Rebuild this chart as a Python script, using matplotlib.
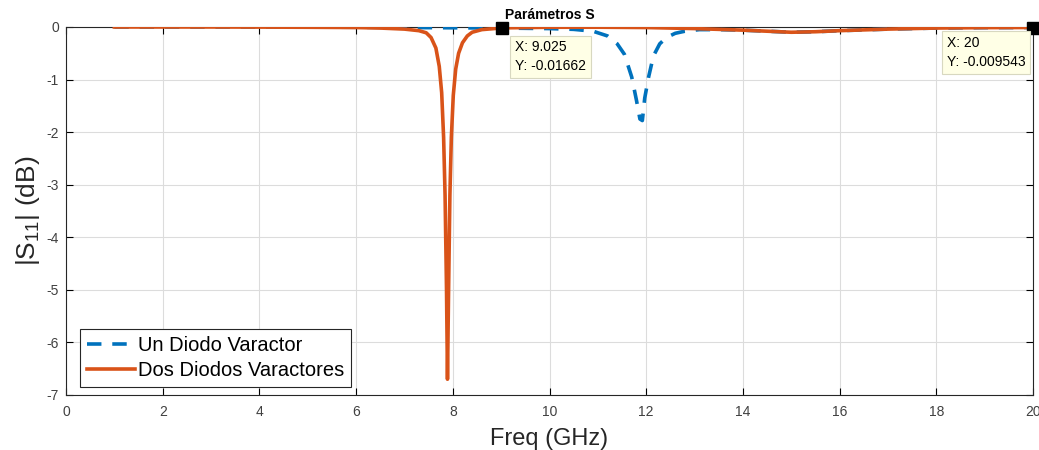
import matplotlib
matplotlib.use("Agg")
import matplotlib.pyplot as plt

plt.rcParams["font.family"] = ["Liberation Sans", "DejaVu Sans"]
plt.rcParams["axes.unicode_minus"] = False
plt.rcParams["mathtext.fontset"] = "custom"
plt.rcParams["mathtext.rm"] = "Liberation Sans"
plt.rcParams["mathtext.it"] = "Liberation Sans:italic"

# Data
freq_dos = [1.0, 2.0, 3.0, 4.0, 5.0, 6.0, 6.5, 7.0, 7.3, 7.45, 7.55, 7.65, 7.72, 7.77, 7.81,
            7.84, 7.87, 7.89, 7.91, 7.94, 7.97, 8.01, 8.06, 8.12, 8.2, 8.3, 8.4, 8.6, 9.025,
            10.0, 11.0, 12.0, 13.0, 14.0, 14.5, 15.0, 15.5, 16.0, 17.0, 18.0, 19.0, 20.0]
s11_dos = [0.0, 0.0, 0.0, -0.002, -0.005, -0.01, -0.02, -0.04, -0.07, -0.11, -0.2, -0.4, -0.75,
           -1.25, -2.1, -3.2, -5.0, -6.7, -5.2, -3.2, -2.1, -1.3, -0.8, -0.5, -0.3, -0.17, -0.1,
           -0.05, -0.01662, -0.005, -0.004, -0.01, -0.03, -0.06, -0.08, -0.1, -0.09, -0.07,
           -0.04, -0.02, -0.012, -0.009543]

freq_un = [1.0, 2.0, 4.0, 6.0, 7.0, 8.0, 9.0, 10.0, 10.5, 10.9, 11.2, 11.4, 11.55, 11.7,
           11.8, 11.87, 11.92, 11.97, 12.05, 12.15, 12.28, 12.42, 12.6, 12.8, 13.1, 13.5,
           14.0, 14.5, 15.0, 15.5, 16.0, 17.0, 18.0, 19.0, 20.0]
s11_un = [0.0, 0.0, 0.0, -0.005, -0.01, -0.015, -0.02, -0.03, -0.045, -0.08, -0.17, -0.32,
          -0.52, -0.95, -1.4, -1.75, -1.78, -1.35, -0.95, -0.55, -0.32, -0.2, -0.12, -0.08,
          -0.05, -0.05, -0.06, -0.08, -0.1, -0.09, -0.07, -0.04, -0.02, -0.012, -0.009543]

tips_x = [9.025, 20.0]
tips_y = [-0.01662, -0.009543]
tip_labels = ["X: 9.025\nY: -0.01662", "X: 20\nY: -0.009543"]

x_ticks = [0, 2, 4, 6, 8, 10, 12, 14, 16, 18, 20]
y_ticks = [0, -1, -2, -3, -4, -5, -6, -7]

blue = "#0072BD"
orange = "#D95319"

fig = plt.figure(figsize=(10.39, 4.5), dpi=100)
ax = fig.add_axes([66/1039, 1-395/450, (1033-66)/1039, (395-27)/450])

ax.plot(freq_un, s11_un, color=blue, lw=2.6, ls=(0, (4, 3)), label="Un Diodo Varactor", zorder=3)
ax.plot(freq_dos, s11_dos, color=orange, lw=2.6, label="Dos Diodos Varactores", zorder=4)

ax.set_xlim(0, 20)
ax.set_ylim(-7, 0)
ax.set_xticks(x_ticks)
ax.set_yticks(y_ticks)
ax.grid(True, color="#dcdcdc", lw=0.8)
ax.set_axisbelow(True)
ax.tick_params(direction="in", top=True, right=True, labelsize=10, labelcolor="#404040",
               length=5, width=0.8)
ax.tick_params(axis="x", pad=7)
ax.tick_params(axis="y", pad=5)
for s in ax.spines.values():
    s.set_color("#262626")
    s.set_linewidth(0.8)

ax.set_xlabel("Freq (GHz)", fontsize=17, color="#262626", labelpad=7)
ax.set_ylabel("|S$_{11}$| (dB)", fontsize=19, color="#262626", labelpad=3)
ax.set_title("Parámetros S", fontsize=10, fontweight="bold", pad=6)

# Data tips
ax.plot(tips_x, tips_y, ls="none", marker="s", ms=8, color="black", zorder=6, clip_on=False)
ax.annotate(tip_labels[0], xy=(tips_x[0], tips_y[0]), xytext=(9, -9),
            textcoords="offset points", fontsize=10, va="top", ha="left", linespacing=1.45,
            bbox=dict(boxstyle="square,pad=0.35", fc="#ffffe6", ec="#d8d8c0", lw=0.8), zorder=7)
ax.annotate(tip_labels[1], xy=(tips_x[1], tips_y[1]), xytext=(-62, -6),
            textcoords="offset points", fontsize=10, va="top", ha="left", linespacing=1.45,
            bbox=dict(boxstyle="square,pad=0.35", fc="#ffffe6", ec="#d8d8c0", lw=0.8), zorder=7)

leg = ax.legend(loc="lower left", bbox_to_anchor=(0.014, 0.022), fontsize=14.5, frameon=True,
                fancybox=False, edgecolor="#262626", framealpha=1, handlelength=2.4,
                handletextpad=0.15, borderpad=0.35, labelspacing=0.3, borderaxespad=0)
leg.get_frame().set_linewidth(0.8)

fig.savefig("out.png", dpi=100)
